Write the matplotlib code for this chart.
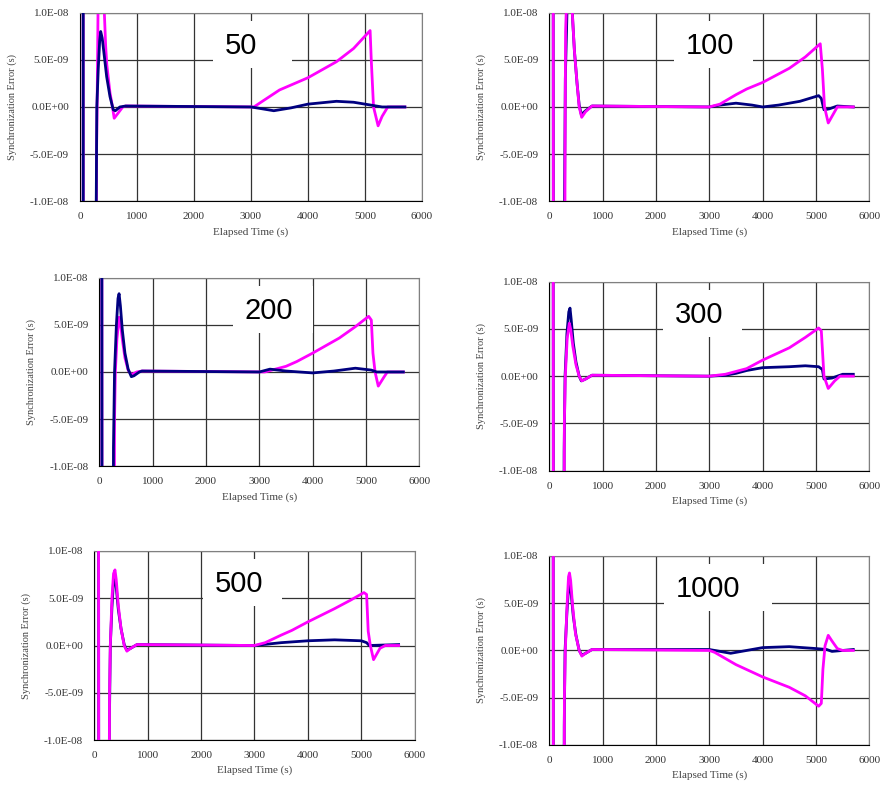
import numpy as np
import matplotlib
matplotlib.use('Agg')
import matplotlib.pyplot as plt
from matplotlib.patches import Rectangle

# panel titles (time constant)
panel_names = ['50', '100', '200', '300', '500', '1000']

# values: time in s, error in ns
t50_navy = [55, 58, 272, 285, 295, 320, 345, 363, 390, 430, 468, 526, 584, 620, 700, 800, 3000, 3200, 3400, 3700, 4000, 4500, 4800, 5100, 5300, 5700]
v50_navy = [40, -40, -40, -10, 0, 4, 7, 8.0, 7.3, 5.2, 3.2, 1.1, -0.3, -0.4, 0, 0.1, 0, -0.2, -0.4, -0.1, 0.3, 0.6, 0.5, 0.2, 0, 0]
t50_mag = [55, 58, 270, 290, 300, 316, 340, 400, 427, 450, 470, 526, 570, 600, 650, 750, 800, 3050, 3300, 3500, 4000, 4500, 4800, 5090, 5110, 5150, 5230, 5300, 5400, 5700]
v50_mag = [40, -40, -40, -5, 0, 10, 20, 20, 10, 6.5, 4.5, 1.5, 0, -1.2, -0.8, 0, 0.1, 0, 1.0, 1.8, 3.1, 4.8, 6.2, 8.1, 5.0, 0, -2.0, -1.0, 0, 0]

t100_navy = [70, 78, 270, 285, 300, 340, 420, 440, 470, 520, 560, 600, 680, 800, 3000, 3200, 3500, 3800, 4000, 4300, 4700, 5050, 5100, 5150, 5250, 5400, 5700]
v100_navy = [40, -40, -40, -10, 3, 12, 12, 9, 6, 2.5, 0.2, -0.8, -0.4, 0.1, 0, 0.2, 0.4, 0.2, 0, 0.2, 0.6, 1.2, 0.9, -0.3, -0.2, 0.1, 0]
t100_mag = [70, 78, 285, 295, 305, 345, 400, 431, 470, 520, 560, 607, 680, 800, 3000, 3200, 3500, 3700, 4000, 4500, 4800, 5080, 5120, 5160, 5230, 5300, 5400, 5700]
v100_mag = [40, -40, -40, -5, 8, 15, 15, 10, 6, 2.5, 0, -1.1, -0.5, 0.1, 0, 0.3, 1.3, 1.9, 2.6, 4.1, 5.3, 6.7, 4.0, 0, -1.7, -1.0, 0, 0]

t200_navy = [45, 52, 255, 265, 285, 320, 350, 370, 395, 430, 480, 540, 600, 650, 750, 800, 3000, 3200, 3500, 4000, 4400, 4800, 5100, 5200, 5700]
v200_navy = [40, -40, -40, -8, 0, 5, 7.8, 8.3, 7.0, 4.5, 2.0, 0.3, -0.5, -0.4, 0, 0.1, 0, 0.3, 0.1, -0.1, 0.1, 0.4, 0.2, 0, 0]
t200_mag = [45, 52, 270, 285, 300, 330, 370, 400, 430, 480, 540, 600, 700, 800, 3100, 3300, 3500, 3700, 4000, 4500, 4800, 5050, 5100, 5130, 5170, 5230, 5330, 5400, 5700]
v200_mag = [40, -40, -40, -5, 0, 3.5, 5.8, 5.0, 3.5, 1.5, 0.2, -0.3, 0, 0.1, 0, 0.3, 0.6, 1.1, 2.0, 3.6, 4.8, 5.9, 5.5, 2.0, 0, -1.5, -0.6, 0, 0]

t300_navy = [70, 78, 265, 278, 295, 330, 365, 388, 410, 450, 500, 560, 600, 680, 800, 3000, 3300, 3500, 3700, 4000, 4500, 4800, 5050, 5120, 5150, 5300, 5500, 5700]
v300_navy = [40, -40, -40, -8, 0, 4.5, 6.8, 7.2, 6.0, 3.5, 1.5, 0, -0.5, -0.3, 0.1, 0, 0.1, 0.3, 0.6, 0.9, 1.0, 1.1, 1.0, 0.7, -0.3, -0.2, 0.2, 0.2]
t300_mag = [70, 78, 270, 282, 300, 335, 375, 400, 440, 500, 560, 610, 680, 800, 3000, 3300, 3500, 3700, 4000, 4500, 4800, 5050, 5100, 5150, 5230, 5350, 5450, 5700]
v300_mag = [40, -40, -40, -5, 0, 4, 5.6, 5.0, 3.2, 1.2, 0, -0.5, -0.3, 0.1, 0, 0.2, 0.5, 0.8, 1.7, 3.0, 4.1, 5.1, 4.8, 0, -1.3, -0.5, 0, 0]

t500_navy = [78, 85, 270, 283, 300, 330, 360, 387, 410, 450, 500, 560, 610, 680, 800, 3000, 3500, 4000, 4500, 5000, 5100, 5150, 5700]
v500_navy = [40, -40, -40, -8, 0, 4, 6.8, 7.3, 6.2, 3.8, 1.8, 0.1, -0.5, -0.3, 0.1, 0, 0.3, 0.5, 0.6, 0.5, 0.3, 0, 0.1]
t500_mag = [78, 85, 272, 285, 300, 330, 360, 387, 410, 450, 500, 560, 610, 680, 800, 3000, 3200, 3500, 3700, 4000, 4500, 4800, 5050, 5100, 5130, 5170, 5230, 5350, 5450, 5700]
v500_mag = [40, -40, -40, -5, 0, 5, 7.6, 8.0, 7.0, 4.2, 1.8, 0, -0.6, -0.3, 0.1, 0, 0.3, 1.1, 1.6, 2.5, 3.9, 4.8, 5.6, 5.4, 1.5, 0, -1.5, -0.3, 0, 0]

t1000_navy = [70, 78, 268, 280, 295, 330, 360, 385, 410, 450, 500, 560, 610, 680, 800, 3000, 3200, 3400, 3700, 4000, 4500, 5000, 5200, 5300, 5500, 5700]
v1000_navy = [40, -40, -40, -8, 0, 4, 6.6, 7.0, 6.0, 3.6, 1.6, 0, -0.5, -0.3, 0.1, 0.1, -0.1, -0.3, 0, 0.3, 0.4, 0.2, 0.1, -0.1, 0, 0.1]
t1000_mag = [70, 78, 270, 283, 300, 330, 360, 378, 400, 440, 490, 560, 610, 680, 800, 3000, 3100, 3500, 4000, 4500, 4800, 5050, 5100, 5130, 5170, 5230, 5300, 5400, 5500, 5700]
v1000_mag = [40, -40, -40, -5, 0, 4.5, 7.8, 8.2, 7.4, 4.5, 1.8, 0, -0.6, -0.3, 0.1, 0, -0.2, -1.5, -2.8, -3.9, -4.8, -5.9, -5.6, -2.0, 0.5, 1.6, 1.0, 0.2, 0, 0]

x_ticks = [0, 1000, 2000, 3000, 4000, 5000, 6000]
y_ticks = [-1e-8, -5e-9, 0, 5e-9, 1e-8]
y_ticklabels = ['-1.0E-08', '-5.0E-09', '0.0E+00', '5.0E-09', '1.0E-08']

series = [
    (t50_navy, v50_navy, t50_mag, v50_mag, 'navy'),
    (t100_navy, v100_navy, t100_mag, v100_mag, 'mag'),
    (t200_navy, v200_navy, t200_mag, v200_mag, 'navy'),
    (t300_navy, v300_navy, t300_mag, v300_mag, 'mag'),
    (t500_navy, v500_navy, t500_mag, v500_mag, 'mag'),
    (t1000_navy, v1000_navy, t1000_mag, v1000_mag, 'mag'),
]

# axes rectangles in figure fraction [left, bottom, width, height]
positions = [
    [0.0906, 0.7436, 0.3873, 0.2403],
    [0.6221, 0.7436, 0.3624, 0.2403],
    [0.1125, 0.4060, 0.3624, 0.2403],
    [0.6221, 0.4004, 0.3624, 0.2408],
    [0.1068, 0.0573, 0.3628, 0.2408],
    [0.6221, 0.0510, 0.3624, 0.2408],
]
# label text left edge (axes fraction) and white box width in px
label_x = [0.424, 0.427, 0.455, 0.393, 0.377, 0.396]
box_w_px = [79, 79, 80, 79, 79, 108]

W, H = 883, 785
fig = plt.figure(figsize=(W / 100, H / 100), dpi=100)
fig.patch.set_facecolor('white')

serif = 'Liberation Serif'
navy = '#000080'
magenta = '#ff00ff'

for i in range(6):
    ax = fig.add_axes(positions[i])
    tn, vn, tm, vm, top = series[i]
    zn, zm = (3, 2) if top == 'navy' else (2, 3)
    ax.plot(tn, np.array(vn) * 1e-9, color=navy, lw=2.0, zorder=zn, solid_joinstyle='round')
    ax.plot(tm, np.array(vm) * 1e-9, color=magenta, lw=2.0, zorder=zm, solid_joinstyle='round')

    ax.set_xlim(0, 6000)
    ax.set_ylim(-1e-8, 1e-8)
    ax.set_xticks(x_ticks)
    ax.set_xticklabels([str(x) for x in x_ticks], fontfamily=serif, fontsize=8, color='#333333')
    ax.set_yticks(y_ticks)
    ax.set_yticklabels(y_ticklabels, fontfamily=serif, fontsize=8, color='#333333')
    ax.tick_params(length=0)
    ax.tick_params(axis='y', pad=8)
    ax.tick_params(axis='x', pad=8)
    ax.grid(True, color='#333333', lw=0.9, zorder=1)
    ax.set_axisbelow(True)
    for s in ['top', 'right']:
        ax.spines[s].set_color('#808080')
    for s in ['left', 'bottom']:
        ax.spines[s].set_color('#000000')

    ax_w = positions[i][2] * W
    ax_h = positions[i][3] * H
    ax.set_xlabel('Elapsed Time (s)', fontfamily=serif, fontsize=8, color='#444444', labelpad=4)
    ax.set_ylabel('Synchronization Error (s)', fontfamily=serif, fontsize=7.5, color='#444444')
    ax.yaxis.set_label_coords(-63 / ax_w, 0.5)

    # white box behind the panel name
    bx = label_x[i] - 12 / ax_w
    ax.add_patch(Rectangle((bx, 1 - 55 / ax_h), box_w_px[i] / ax_w, 47 / ax_h,
                           transform=ax.transAxes, facecolor='white', edgecolor='none', zorder=4))
    ax.text(label_x[i], 1 - 33 / ax_h, panel_names[i], transform=ax.transAxes,
            ha='left', va='center', fontsize=21, fontfamily='Liberation Sans', zorder=5)

fig.savefig('out.png', dpi=100)
